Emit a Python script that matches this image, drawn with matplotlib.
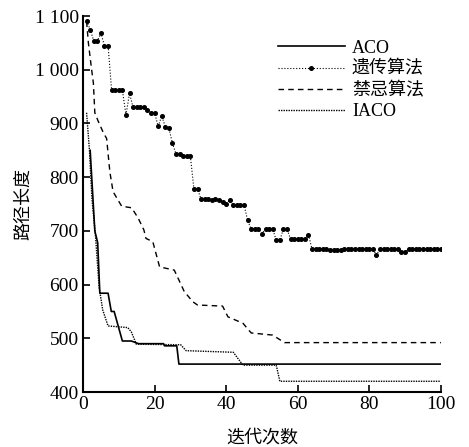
import matplotlib
matplotlib.use("Agg")
import matplotlib.pyplot as plt

plt.rcParams['font.family'] = ['Liberation Serif', 'Noto Sans CJK SC']

# ACO (solid)
aco_x = [2, 3.3, 4.1, 4.7, 7, 7.9, 8.7, 11, 13.5, 15.5, 22.5, 22.8, 26.2, 26.8, 100]
aco_y = [850, 700, 678, 584, 584, 550, 550, 495, 495, 490, 490, 486, 486, 452, 452]

# IACO (dotted)
iaco_x = [1, 1.8, 2.5, 3.5, 4.5, 5.5, 7, 12.5, 13.5, 14.9, 27.3, 28.8, 42, 44.7, 54, 55, 100]
iaco_y = [920, 850, 760, 690, 595, 553, 523, 520, 512, 489, 488, 477, 474, 450, 450, 420, 420]

# Tabu search (dashed)
tabu_x = [1, 1.5, 2.3, 2.9, 3.3, 4.2, 5.6, 6.6, 7.5, 8.4, 10.8, 13.6, 15.4, 17, 17.6, 19.5,
          21.4, 25.5, 28.3, 30.7, 32, 39, 40.5, 44.7, 47, 53, 56.3, 100]
tabu_y = [1090, 1050, 1006, 975, 920, 905, 884, 872, 810, 773, 746, 743, 724, 702, 686, 680,
          633, 627, 587, 568, 562, 560, 540, 528, 510, 506, 492, 492]

# Genetic algorithm (dotted with markers), one value per iteration 1..100
ga_x = list(range(1, 101))
ga_y = [1091, 1075, 1054, 1054, 1068, 1045, 1045, 962, 962, 962,
        962, 916, 956, 930, 930, 930, 930, 926, 920, 920,
        895, 914, 894, 891, 863, 843, 843, 839, 839, 839,
        778, 778, 759, 759, 759, 757, 759, 758, 754, 751,
        757, 748, 748, 748, 748, 720, 703, 703, 703, 695,
        703, 703, 703, 683, 683, 703, 703, 685, 685, 685,
        685, 685, 693, 666, 666, 666, 666, 666, 664, 664,
        664, 664, 666, 666, 666, 666, 666, 666, 666, 666,
        666, 655, 666, 666, 666, 666, 666, 666, 661, 661,
        666, 666, 666, 666, 666, 666, 666, 666, 666, 666]

fig = plt.figure(figsize=(4.69, 4.47), dpi=100)
ax = fig.add_axes([0.177, 0.123, 0.763, 0.841])

ax.plot(aco_x, aco_y, color='black', lw=1.2, ls='-', label='ACO')
ax.plot(ga_x, ga_y, color='black', lw=0.8, ls=':', marker='o', markersize=2.6, label='遗传算法')
ax.plot(tabu_x, tabu_y, color='black', lw=1.0, ls=(0, (4, 3)), label='禁忌算法')
ax.plot(iaco_x, iaco_y, color='black', lw=1.0, ls=(0, (1, 0.8)), label='IACO')

ax.set_xlim(0, 100)
ax.set_ylim(400, 1100)
ax.set_xticks([0, 20, 40, 60, 80, 100])
ax.set_yticks([400, 500, 600, 700, 800, 900, 1000, 1100])
ax.set_yticklabels(['400', '500', '600', '700', '800', '900', '1 000', '1 100'])
ax.tick_params(direction='in', length=5, width=1.2, labelsize=14, pad=3)
for side in ['top', 'right']:
    ax.spines[side].set_visible(False)
for side in ['left', 'bottom']:
    ax.spines[side].set_linewidth(1.5)

ax.set_xlabel('迭代次数', fontsize=13, labelpad=12)
ax.set_ylabel('路径长度', fontsize=13, labelpad=2)

ax.legend(loc='upper left', bbox_to_anchor=(0.545, 0.937), frameon=False,
          borderpad=0, borderaxespad=0, numpoints=1,
          fontsize=13, handlelength=3.7, handletextpad=0.4, labelspacing=0.22)

fig.savefig('out.png', dpi=100)
